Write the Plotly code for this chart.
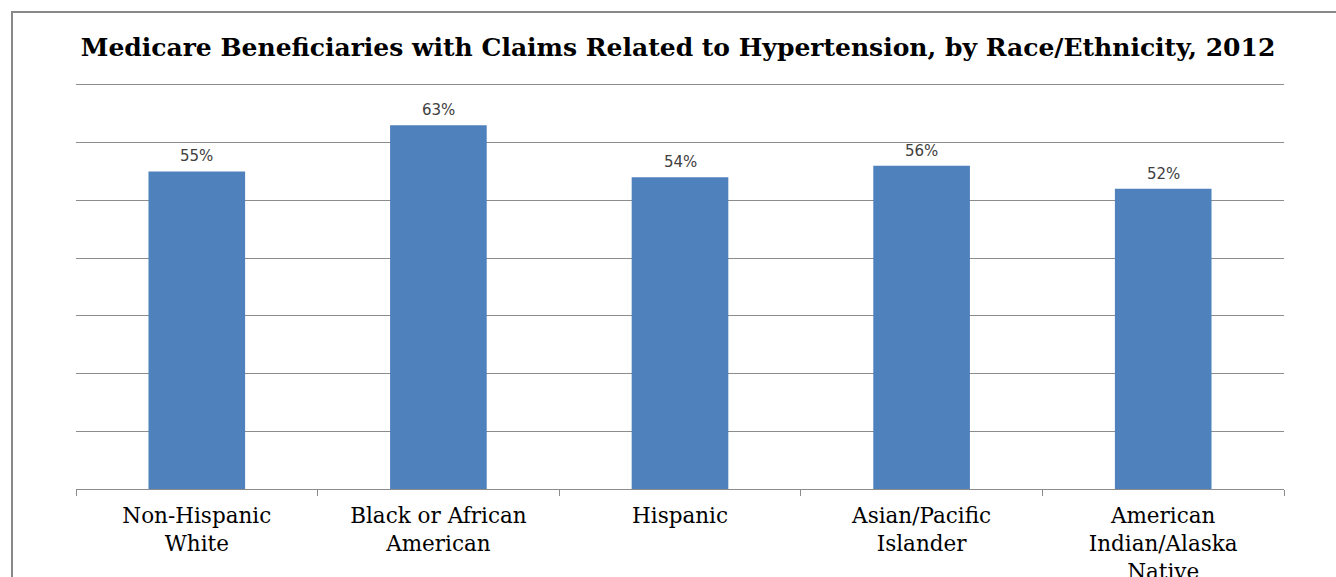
import plotly.graph_objects as go

categories = ["Non-Hispanic<br>White", "Black or African<br>American", "Hispanic",
              "Asian/Pacific<br>Islander", "American<br>Indian/Alaska<br>Native"]
values = [55, 63, 54, 56, 52]
labels = [f"{v}%" for v in values]
title_text = "Medicare Beneficiaries with Claims Related to Hypertension, by Race/Ethnicity, 2012"

W, H = 1336, 577
ml, mr, mt, mb = 76, 52, 82, 88
pw, ph = W - ml - mr, H - mt - mb

fig = go.Figure()
fig.add_trace(go.Bar(
    x=categories, y=values,
    marker=dict(color="#4F81BD", line=dict(width=0)),
    width=0.4,
    hoverinfo="skip",
))

for c, v, t in zip(categories, values, labels):
    fig.add_annotation(x=c, y=v, text=t, showarrow=False, yanchor="bottom",
                       yshift=4, font=dict(family="DejaVu Sans", size=15, color="#404040"))

# outer chart frame
fx0 = (12 - ml) / pw
fy1 = (H - mb - 12) / ph
fig.add_shape(type="path", xref="paper", yref="paper",
              path=f"M {fx0} -0.5 L {fx0} {fy1} L 1.2 {fy1}",
              line=dict(color="#898989", width=2))

fig.update_layout(
    width=W, height=H,
    margin=dict(l=ml, r=mr, t=mt, b=mb, autoexpand=False),
    paper_bgcolor="white", plot_bgcolor="white",
    showlegend=False,
    title=dict(text="<b>" + title_text + "</b>", x=678 / W, xanchor="center",
               y=1 - 47 / H, yanchor="middle",
               font=dict(family="DejaVu Serif", size=25, color="black")),
    xaxis=dict(
        type="category", automargin=False,
        showline=True, linecolor="#8c8c8c", linewidth=1,
        ticks="outside", tickson="boundaries", ticklen=6, tickcolor="#8c8c8c",
        ticklabelstandoff=7,
        tickfont=dict(family="DejaVu Serif", size=21.5, color="black"),
        showgrid=False,
    ),
    yaxis=dict(
        range=[0, 70.5], dtick=10, showticklabels=False, automargin=False,
        showgrid=True, gridcolor="#8c8c8c", gridwidth=1,
        zeroline=False, showline=False, ticks="",
    ),
)

fig.write_html("out.html")
